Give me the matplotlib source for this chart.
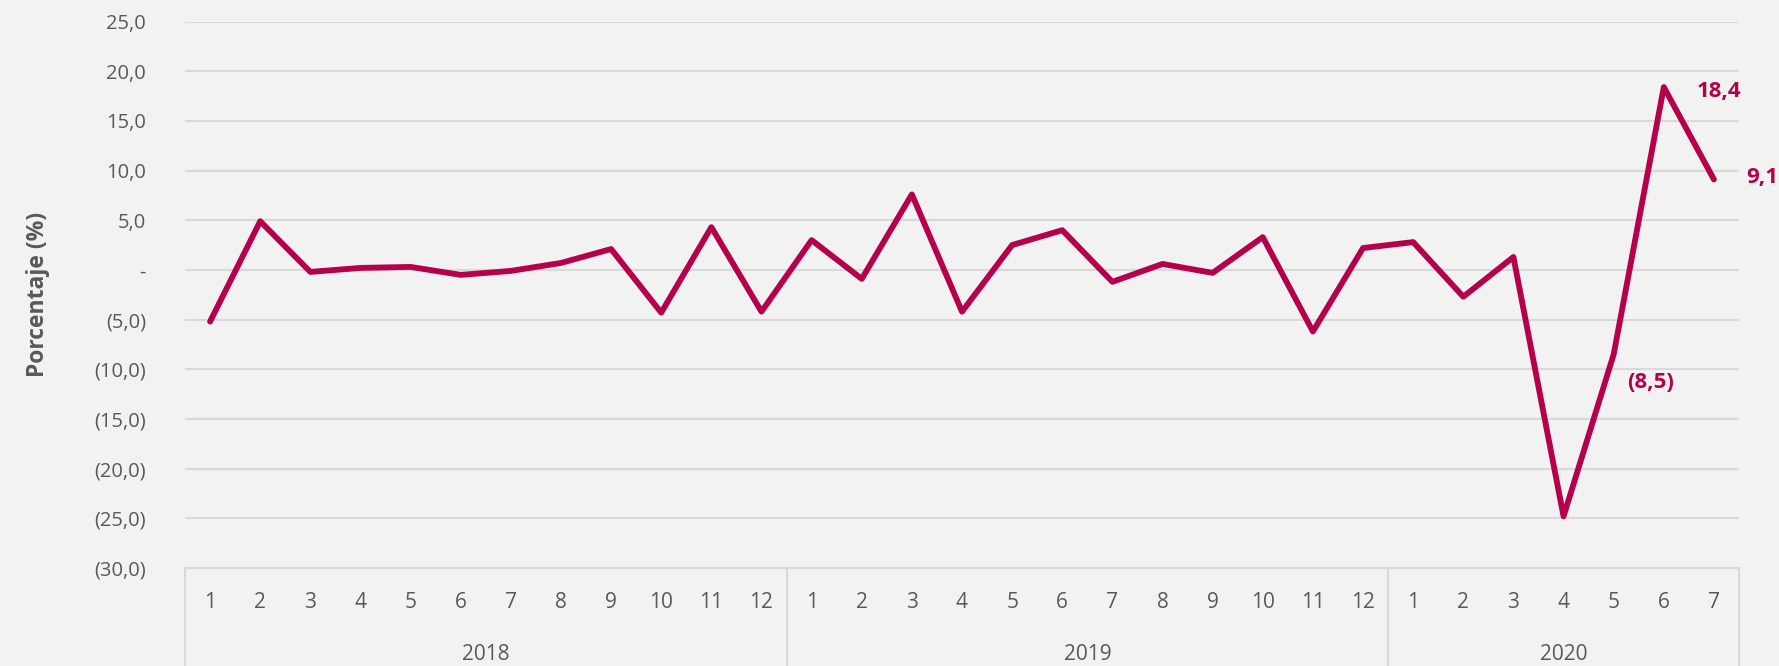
import matplotlib
matplotlib.use("Agg")
import matplotlib.pyplot as plt
import matplotlib.transforms as mtransforms
from matplotlib.ticker import FuncFormatter

plt.rcParams['font.family'] = ['Open Sans', 'DejaVu Sans']

# datos: variación mensual (%)
anios = ['2018', '2019', '2020']
meses_por_anio = [12, 12, 7]
valores = [-5.2, 4.9, -0.2, 0.2, 0.3, -0.5, -0.1, 0.7, 2.1, -4.3, 4.3, -4.2,
           3.0, -0.9, 7.6, -4.2, 2.5, 4.0, -1.2, 0.6, -0.3, 3.3, -6.2, 2.2,
           2.8, -2.7, 1.3, -24.8, -8.5, 18.4, 9.1]
etiquetas = {28: '(8,5)', 29: '18,4', 30: '9,1'}
desplaz = {28: (37, -28), 29: (55, -4), 30: (48, 2)}

meses = []
for n in meses_por_anio:
    meses += [str(m) for m in range(1, n + 1)]
x = list(range(len(valores)))

fondo = '#f2f2f2'
color_linea = '#b5004b'
gris = '#595959'
rejilla = '#d9d9d9'

fig = plt.figure(figsize=(17.79, 6.66), dpi=100, facecolor=fondo)
ax = fig.add_axes([185 / 1779, 1 - 568 / 666, (1739 - 185) / 1779, (568 - 21.5) / 666])
ax.set_facecolor(fondo)

ax.plot(x, valores, color=color_linea, lw=4.2, solid_joinstyle='round',
        solid_capstyle='round', zorder=3)

for i, txt in etiquetas.items():
    ax.annotate(txt, (x[i], valores[i]), xytext=desplaz[i], textcoords='offset pixels',
                ha='center', va='center', fontsize=16, fontweight='bold', color=color_linea)

ax.set_ylim(-30, 25)
ax.set_yticks(range(-30, 26, 5))
def fmt(v, pos):
    if v == 0:
        return '-'
    if v > 0:
        return f'{v:.1f}'.replace('.', ',')
    return f'({-v:.1f})'.replace('.', ',')
ax.yaxis.set_major_formatter(FuncFormatter(fmt))
ax.grid(axis='y', color=rejilla, lw=1.5, zorder=0)
ax.tick_params(axis='y', length=0, pad=28, labelsize=14.5, labelcolor=gris)
ax.set_xlim(-0.5, len(valores) - 0.5)
ax.set_xticks([])
for s in ['top', 'right', 'left']:
    ax.spines[s].set_visible(False)
ax.spines['bottom'].set_color(rejilla)
ax.spines['bottom'].set_linewidth(1.5)

ax.set_ylabel('Porcentaje (%)', fontsize=16.5, fontweight='bold', color=gris)
ax.yaxis.set_label_coords(-0.087, 0.5)

# eje de categorías de dos niveles
trans = mtransforms.blended_transform_factory(ax.transData, ax.transAxes)
alto = 568 - 21.5
y_mes = -35 / alto
y_anio = -87 / alto
y_fin = -100 / alto
for xi, m in zip(x, meses):
    ax.text(xi, y_mes, m, transform=trans, ha='center', va='center', fontsize=15, color=gris)
inicio = 0
bordes = [-0.5]
for a, n in zip(anios, meses_por_anio):
    centro = inicio + (n - 1) / 2
    ax.text(centro, y_anio, a, transform=trans, ha='center', va='center', fontsize=15, color=gris)
    inicio += n
    bordes.append(inicio - 0.5)
for b in bordes:
    ax.plot([b, b], [0, y_fin], transform=trans, color=rejilla, lw=1.5, clip_on=False)

fig.savefig('out.png', dpi=100, facecolor=fondo)
